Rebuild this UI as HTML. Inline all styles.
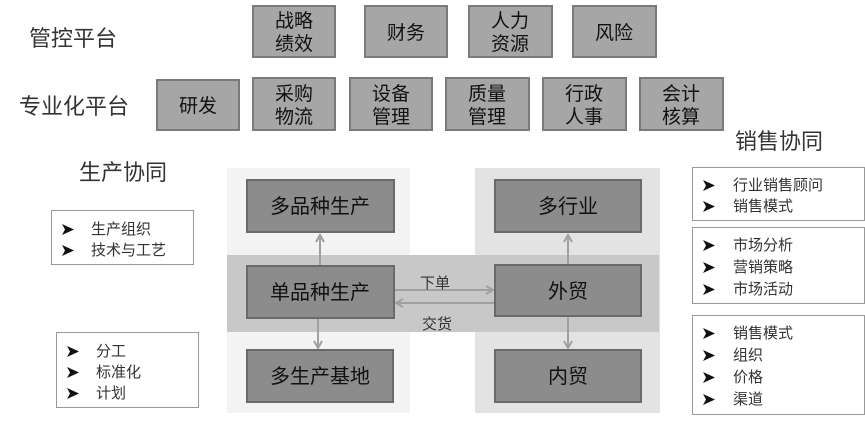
<!DOCTYPE html>
<html><head><meta charset="utf-8"><style>
html,body{margin:0;padding:0;background:#fff;width:865px;height:421px;overflow:hidden}
svg text{font-family:"Liberation Sans","Noto Sans CJK SC",sans-serif}
</style></head><body>
<svg width="865" height="421" viewBox="0 0 865 421" xmlns="http://www.w3.org/2000/svg">
<defs>
<marker id="ah" markerWidth="10" markerHeight="10" refX="8" refY="5" orient="auto" markerUnits="userSpaceOnUse">
<path d="M1,1 L8,5 L1,9" fill="none" stroke="#a0a0a0" stroke-width="2"/>
</marker>
<path id="b" d="M0,-11 L12,-5.5 L0,0 L3,-5.5 Z" fill="#111"/>
</defs>
<g font-size="22" fill="#333">
<text x="73" y="46" text-anchor="middle">管控平台</text>
<text x="74" y="114" text-anchor="middle">专业化平台</text>
<text x="123" y="180" text-anchor="middle">生产协同</text>
<text x="779" y="149" text-anchor="middle">销售协同</text>
</g>
<g fill="#a6a6a6" stroke="#7a7a7a" stroke-width="2">
<rect x="253" y="6" width="82" height="51"/>
<rect x="365" y="6" width="82" height="51"/>
<rect x="469" y="6" width="83" height="51"/>
<rect x="573" y="6" width="83" height="51"/>
<rect x="157" y="80" width="82" height="50"/>
<rect x="253" y="78" width="82" height="52"/>
<rect x="350" y="78" width="82" height="52"/>
<rect x="446" y="78" width="83" height="52"/>
<rect x="543" y="78" width="83" height="52"/>
<rect x="640" y="78" width="83" height="52"/>
</g>
<g font-size="19" fill="#111" text-anchor="middle">
<text x="294" y="27">战略</text><text x="294" y="50">绩效</text>
<text x="406" y="39">财务</text>
<text x="510" y="27">人力</text><text x="510" y="50">资源</text>
<text x="614" y="39">风险</text>
<text x="198" y="112">研发</text>
<text x="294" y="100">采购</text><text x="294" y="123">物流</text>
<text x="391" y="100">设备</text><text x="391" y="123">管理</text>
<text x="487" y="100">质量</text><text x="487" y="123">管理</text>
<text x="584" y="100">行政</text><text x="584" y="123">人事</text>
<text x="681" y="100">会计</text><text x="681" y="123">核算</text>
</g>
<rect x="227" y="168" width="183" height="245" fill="#f3f3f3"/>
<rect x="475" y="168" width="185" height="245" fill="#e3e3e3"/>
<rect x="227" y="255" width="432" height="77" fill="#c8c8c8"/>
<g stroke="#a0a0a0" stroke-width="2" marker-end="url(#ah)">
<line x1="320" y1="266" x2="320" y2="235"/>
<line x1="318" y1="318" x2="318" y2="348"/>
<line x1="568" y1="265" x2="568" y2="235"/>
<line x1="568" y1="316" x2="568" y2="348"/>
<line x1="394" y1="290" x2="493" y2="290"/>
<line x1="495" y1="303" x2="396" y2="303"/>
</g>
<g fill="#8c8c8c" stroke="#6a6a6a" stroke-width="2">
<rect x="247" y="180" width="147" height="52"/>
<rect x="495" y="180" width="146" height="52"/>
<rect x="247" y="266" width="147" height="52"/>
<rect x="495" y="265" width="146" height="51"/>
<rect x="247" y="350" width="146" height="52"/>
<rect x="495" y="350" width="146" height="52"/>
</g>
<g font-size="20" fill="#111" text-anchor="middle">
<text x="320" y="213">多品种生产</text>
<text x="568" y="213">多行业</text>
<text x="320" y="299">单品种生产</text>
<text x="568" y="298">外贸</text>
<text x="320" y="383">多生产基地</text>
<text x="568" y="383">内贸</text>
</g>
<g font-size="15" fill="#333" text-anchor="middle">
<text x="435" y="288">下单</text>
<text x="437" y="329">交货</text>
</g>
<g fill="#fff" stroke="#999" stroke-width="1">
<rect x="51.5" y="210.5" width="142" height="54"/>
<rect x="56.5" y="332.5" width="142" height="75"/>
<rect x="692.5" y="167.5" width="172" height="53"/>
<rect x="692.5" y="227.5" width="172" height="76"/>
<rect x="692.5" y="315.5" width="172" height="99"/>
</g>
<g>
<use href="#b" x="62" y="235"/><use href="#b" x="62" y="256"/>
<use href="#b" x="67" y="357"/><use href="#b" x="67" y="378"/><use href="#b" x="67" y="399"/>
<use href="#b" x="703" y="191"/><use href="#b" x="703" y="212"/>
<use href="#b" x="703" y="251"/><use href="#b" x="703" y="273"/><use href="#b" x="703" y="295"/>
<use href="#b" x="703" y="339"/><use href="#b" x="703" y="361"/><use href="#b" x="703" y="383"/><use href="#b" x="703" y="405"/>
</g>
<g font-size="15" fill="#333">
<text x="91" y="234">生产组织</text>
<text x="91" y="255">技术与工艺</text>
<text x="96" y="356">分工</text>
<text x="96" y="377">标准化</text>
<text x="96" y="398">计划</text>
<text x="733" y="190">行业销售顾问</text>
<text x="733" y="211">销售模式</text>
<text x="733" y="250">市场分析</text>
<text x="733" y="272">营销策略</text>
<text x="733" y="294">市场活动</text>
<text x="733" y="338">销售模式</text>
<text x="733" y="360">组织</text>
<text x="733" y="382">价格</text>
<text x="733" y="404">渠道</text>
</g>
</svg>
</body></html>
